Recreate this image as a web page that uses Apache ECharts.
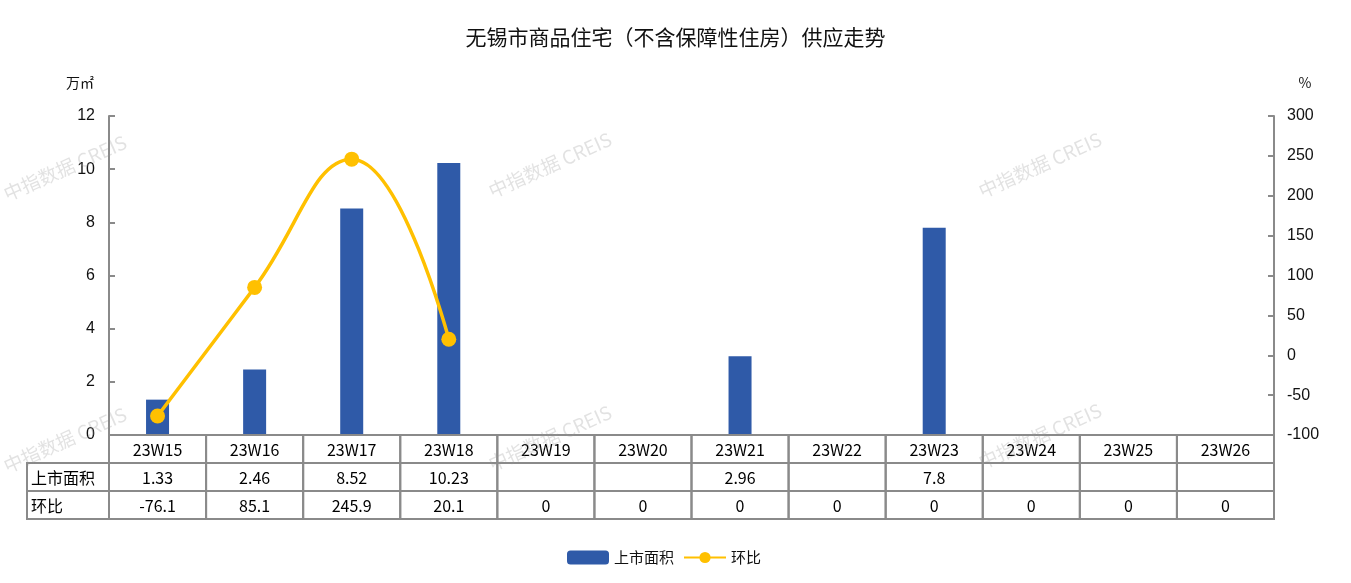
<!DOCTYPE html>
<html><head><meta charset="utf-8">
<script src="https://cdn.jsdelivr.net/npm/echarts@6/dist/echarts.min.js"></script>
<style>html,body{margin:0;padding:0;background:#fff}#c{width:1351px;height:583px}</style>
</head><body><div id="c"></div>
<script>
const categories = ['23W15','23W16','23W17','23W18','23W19','23W20','23W21','23W22','23W23','23W24','23W25','23W26'];
const areaValues = [1.33, 2.46, 8.52, 10.23, null, null, 2.96, null, 7.8, null, null, null];
const ratioLine = [-76.1, 85.1, 245.9, 20.1, null, null, null, null, null, null, null, null];
const ratioTable = ['-76.1','85.1','245.9','20.1','0','0','0','0','0','0','0','0'];
const rowLabels = ['上市面积', '环比'];
const seriesNames = ['上市面积', '环比'];

const chart = echarts.init(document.getElementById('c'));
const BORDER = '#8a8a8a';
const cellFont = '16px "Noto Sans CJK SC", "DejaVu Sans", sans-serif';

const tableTexts = [];
const tableData = [];
categories.forEach((c, i) => {
  const rowTxt = [c, areaValues[i] == null ? '' : String(areaValues[i]), ratioTable[i]];
  for (let r = 0; r < 3; r++) { tableData.push([i, r]); tableTexts.push(rowTxt[r]); }
});
const labelData = rowLabels.map((t, k) => [0, k + 1]);

function cellRender(texts, align) {
  return function(params, api) {
    const p = api.coord([api.value(0), api.value(1)]);
    const s = api.size([1, 1]);
    const x = p[0] - s[0]/2, y = p[1] - s[1]/2;
    return {
      type: 'group',
      children: [
        { type: 'rect', shape: { x: x, y: y, width: s[0], height: s[1] },
          style: { fill: 'rgba(255,255,255,0)', stroke: BORDER, lineWidth: 2 } },
        { type: 'text', style: { text: texts[params.dataIndex], x: align === 'left' ? x + 4 : p[0], y: p[1] + 1,
          align: align, verticalAlign: 'middle', font: cellFont, fill: '#000' } }
      ]
    };
  };
}

const wm = [[65,168],[550,165],[1040,165],[65,440],[550,438],[1040,436]].map(pt => ({
  type: 'text', x: pt[0], y: pt[1], rotation: 0.42, z: 100,
  style: { text: '中指数据 CREIS', align: 'center', verticalAlign: 'middle',
    font: '19px "Noto Sans CJK SC", sans-serif', fill: 'rgba(150,150,150,0.28)' }
}));

chart.setOption({
  animation: false,
  backgroundColor: '#fff',
  title: { text: '无锡市商品住宅（不含保障性住房）供应走势', left: 'center', top: 22,
    textStyle: { fontFamily: '"Noto Sans CJK SC", serif', fontSize: 21, fontWeight: 'normal', color: '#111' } },
  legend: { data: seriesNames, bottom: 13, left: 562, itemWidth: 42, itemHeight: 14, itemGap: 9,
    textStyle: { fontFamily: '"Noto Sans CJK SC", sans-serif', fontSize: 15, color: '#111' } },
  graphic: wm,
  grid: [
    { left: 109, right: 77, top: 116, height: 319 },
    { left: 109, right: 77, top: 435, height: 84 },
    { left: 27, width: 82, top: 435, height: 84 }
  ],
  xAxis: [
    { gridIndex: 0, type: 'category', data: categories, axisLine: { lineStyle: { color: BORDER, width: 2 } },
      axisTick: { show: false }, axisLabel: { show: false } },
    { gridIndex: 1, type: 'category', data: categories, show: false },
    { gridIndex: 2, type: 'category', data: ['lbl'], show: false }
  ],
  yAxis: [
    { gridIndex: 0, type: 'value', min: 0, max: 12, interval: 2, name: '万㎡', nameGap: 26,
      nameTextStyle: { fontFamily: '"Noto Sans CJK SC", sans-serif', fontSize: 14, color: '#111', padding: [0, 58, 0, 0] },
      axisLine: { show: true, lineStyle: { color: BORDER, width: 2 } },
      axisTick: { show: true, inside: true, length: 6, lineStyle: { color: BORDER, width: 2 } },
      axisLabel: { fontFamily: '"Liberation Sans", Arial, sans-serif', fontSize: 16, color: '#111', margin: 14 },
      splitLine: { show: false } },
    { gridIndex: 0, type: 'value', min: -100, max: 300, interval: 50, name: '%', nameGap: 26, position: 'right',
      nameTextStyle: { fontFamily: '"Noto Sans CJK SC", sans-serif', fontSize: 14, color: '#111', padding: [0, 0, 0, 62] },
      axisLine: { show: true, lineStyle: { color: BORDER, width: 2 } },
      axisTick: { show: true, inside: true, length: 6, lineStyle: { color: BORDER, width: 2 } },
      axisLabel: { fontFamily: '"Liberation Sans", Arial, sans-serif', fontSize: 16, color: '#111', margin: 13 },
      splitLine: { show: false } },
    { gridIndex: 1, type: 'category', data: ['0','1','2'], inverse: true, show: false },
    { gridIndex: 2, type: 'category', data: ['0','1','2'], inverse: true, show: false }
  ],
  series: [
    { name: seriesNames[0], type: 'bar', data: areaValues, xAxisIndex: 0, yAxisIndex: 0,
      barWidth: 23, itemStyle: { color: '#2F5AA8' } },
    { name: seriesNames[1], type: 'line', data: ratioLine, xAxisIndex: 0, yAxisIndex: 1, smooth: 0.45,
      symbol: 'circle', symbolSize: 15, lineStyle: { color: '#FFC000', width: 3.5 }, itemStyle: { color: '#FFC000' } },
    { type: 'custom', xAxisIndex: 1, yAxisIndex: 2, data: tableData, renderItem: cellRender(tableTexts, 'center'), z: 5 },
    { type: 'custom', xAxisIndex: 2, yAxisIndex: 3, data: labelData, renderItem: cellRender(rowLabels, 'left'), z: 5 }
  ]
});
</script></body></html>
